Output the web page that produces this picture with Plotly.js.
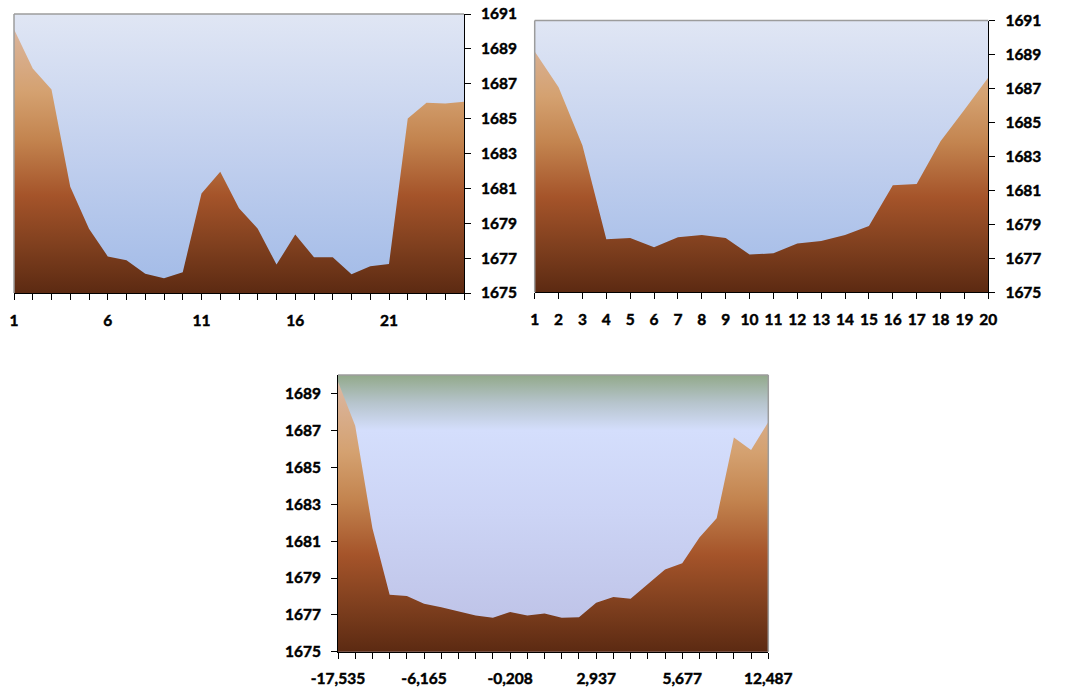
<!DOCTYPE html>
<html>
<head>
<meta charset="utf-8">
<script src="https://cdn.plot.ly/plotly-3.0.1.min.js"></script>
<style>
html,body{margin:0;padding:0;background:#fff;}
#chart{width:1089px;height:689px;}
#chart .xtick text, #chart .ytick text, #chart .x2tick text, #chart .y2tick text, #chart .x3tick text, #chart .y3tick text {stroke:#000;stroke-width:0.45px;}
</style>
</head>
<body>
<div id="chart"></div>
<script>
// ---------- data ----------
const elev1 = [1690.12, 1687.88, 1686.67, 1681.09, 1678.69, 1677.10, 1676.88, 1676.11, 1675.84, 1676.19,
               1680.70, 1681.95, 1679.86, 1678.69, 1676.63, 1678.35, 1677.05, 1677.05, 1676.07, 1676.53,
               1676.67, 1685.01, 1685.91, 1685.87, 1685.97];
const labels1 = ['1', '6', '11', '16', '21'];

const elev2 = [1689.17, 1687.07, 1683.64, 1678.12, 1678.19, 1677.65, 1678.24, 1678.38, 1678.20, 1677.22,
               1677.30, 1677.87, 1678.02, 1678.38, 1678.91, 1681.30, 1681.38, 1683.89, 1685.74, 1687.64];
const labels2 = ['1','2','3','4','5','6','7','8','9','10','11','12','13','14','15','16','17','18','19','20'];

const elev3 = [1689.67, 1687.28, 1681.70, 1678.10, 1678.03, 1677.61, 1677.41, 1677.19, 1676.97, 1676.85,
               1677.16, 1676.96, 1677.07, 1676.85, 1676.87, 1677.66, 1677.97, 1677.88, 1678.68, 1679.47,
               1679.80, 1681.20, 1682.25, 1686.63, 1685.96, 1687.48];
const labels3 = ['-17,535', '-6,165', '-0,208', '2,937', '5,677', '12,487'];

// ---------- helpers ----------
const W = 1089, H = 689;
const FONT = {family: 'Lato, "Open Sans", sans-serif', size: 15, color: '#000'};
const terrainScale = [[0, '#5c2a12'], [0.15, '#7b3d1d'], [0.35, '#a5542a'], [0.55, '#c3844f'], [0.72, '#d4a170'], [1, '#dcbaa8']];
const skyScale12 = [[0, '#a1bae7'], [0.5, '#c2d0ee'], [1, '#e0e6f4']];
const skyScale3 = [[0, '#bbbfe4'], [0.5, '#ccd4f5'], [0.8, '#d4defc'], [0.9, '#b6c4cc'], [1, '#92a98a']];

function idx(n) { return Array.from({length: n}, (_, i) => i + 1); }
function ticks(n, labels, step) {
  const vals = idx(n);
  const text = vals.map(v => ((v - 1) % step === 0) ? labels[(v - 1) / step] : '');
  return {vals, text};
}

const panels = [
  {elev: elev1, labels: labels1, step: 5, yr: [1675, 1691], px: [14, 464], py: [14, 293], side: 'right', sky: skyScale12},
  {elev: elev2, labels: labels2, step: 1, yr: [1675, 1691], px: [534.7, 988.3], py: [20.5, 292.3], side: 'right', sky: skyScale12},
  {elev: elev3, labels: labels3, step: 5, yr: [1675, 1690.03], px: [338, 768.3], py: [375, 651.7], side: 'left', sky: skyScale3}
];

const traces = [];
const layout = {
  width: W, height: H,
  margin: {l: 0, r: 0, t: 0, b: 0},
  paper_bgcolor: '#ffffff',
  plot_bgcolor: 'rgba(0,0,0,0)',
  showlegend: false,
  font: FONT,
  shapes: []
};

panels.forEach((p, k) => {
  const n = p.elev.length;
  const xs = idx(n);
  const sfx = k === 0 ? '' : String(k + 1);
  const xa = 'x' + sfx, ya = 'y' + sfx;
  // sky background
  traces.push({
    type: 'scatter', mode: 'lines', xaxis: xa, yaxis: ya,
    x: [1, n], y: [p.yr[1], p.yr[1]],
    line: {width: 0}, fill: 'tozeroy',
    fillgradient: {type: 'vertical', colorscale: p.sky, start: p.yr[0], stop: p.yr[1]},
    hoverinfo: 'skip'
  });
  // terrain
  traces.push({
    type: 'scatter', mode: 'lines', xaxis: xa, yaxis: ya,
    x: xs, y: p.elev,
    line: {width: 0}, fill: 'tozeroy',
    fillgradient: {type: 'vertical', colorscale: terrainScale, start: p.yr[0], stop: p.yr[1]},
    hoverinfo: 'skip'
  });
  const t = ticks(n, p.labels, p.step);
  layout['xaxis' + sfx] = {
    domain: [p.px[0] / W, p.px[1] / W],
    anchor: ya,
    range: [1, n],
    tickmode: 'array', tickvals: t.vals, ticktext: t.text,
    ticks: 'outside', ticklen: 6, tickcolor: '#000', tickwidth: 1,
    showline: true, linecolor: '#000', linewidth: 1,
    showgrid: false, zeroline: false,
    tickfont: {family: FONT.family, size: 15.5, color: '#000', weight: 'bold'},
    ticklabelstandoff: 7,
    fixedrange: true
  };
  layout['yaxis' + sfx] = {
    domain: [1 - p.py[1] / H, 1 - p.py[0] / H],
    anchor: xa,
    side: p.side,
    range: p.yr,
    tick0: 1675, dtick: 2,
    ticks: 'outside', ticklen: 6, tickcolor: '#000', tickwidth: 1,
    showline: true, linecolor: '#000', linewidth: 1,
    showgrid: false, zeroline: false,
    tickfont: {family: FONT.family, size: 15.5, color: '#000', weight: 'bold'},
    ticklabelstandoff: 7,
    fixedrange: true
  };
  // gray plot-area border on the sides without axes
  const gray = {color: '#9c9c9c', width: 1.5};
  const xd = xa + ' domain', yd = ya + ' domain';
  layout.shapes.push({type: 'line', xref: xd, yref: yd, x0: 0, x1: 1, y0: 1, y1: 1, line: gray});
  if (p.side === 'right') {
    layout.shapes.push({type: 'line', xref: xd, yref: yd, x0: 0, x1: 0, y0: 0, y1: 1, line: gray});
  } else {
    layout.shapes.push({type: 'line', xref: xd, yref: yd, x0: 1, x1: 1, y0: 0, y1: 1, line: gray});
  }
});

Plotly.newPlot('chart', traces, layout, {displayModeBar: false, staticPlot: true});
</script>
</body>
</html>
